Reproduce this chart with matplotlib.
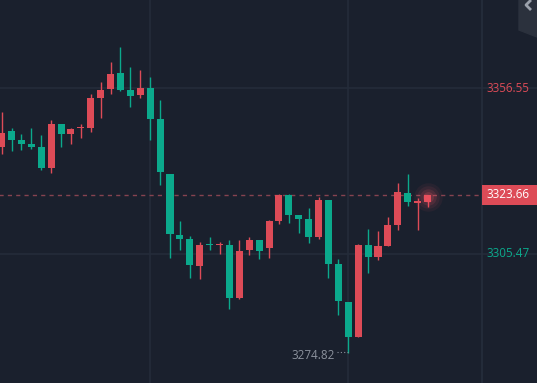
import matplotlib
matplotlib.use("Agg")
import matplotlib.pyplot as plt
import matplotlib.transforms as mtransforms
from matplotlib.patches import Rectangle, Polygon
import numpy as np

# candle data (red = up, green = down)
opens = [3338.45, 3343.39, 3340.61, 3339.38, 3338.45, 3331.98, 3345.54, 3342.46, 3344.20, 3344.31,
         3353.56, 3356.33, 3361.27, 3356.03, 3354.48, 3356.64, 3347.09, 3330.13, 3311.33, 3310.09,
         3301.77, 3308.26, 3308.22, 3308.24, 3291.91, 3306.70, 3309.79, 3307.32, 3315.64, 3323.66,
         3317.49, 3316.26, 3310.71, 3322.12, 3302.39, 3290.67, 3279.88, 3308.24, 3304.54, 3307.94,
         3314.41, 3324.27, 3321.26, 3321.50]
highs = [3349.24, 3344.31, 3342.46, 3344.31, 3342.15, 3346.78, 3345.54, 3344.31, 3345.54, 3354.79,
         3358.49, 3364.66, 3369.28, 3363.12, 3362.19, 3360.03, 3352.94, 3330.13, 3315.64, 3311.02,
         3309.17, 3310.71, 3309.17, 3309.79, 3309.79, 3310.71, 3309.79, 3315.95, 3323.97, 3323.97,
         3317.49, 3319.65, 3323.04, 3322.12, 3303.93, 3290.67, 3308.55, 3313.18, 3312.56, 3316.88,
         3327.36, 3330.13, 3322.73, 3323.66]
lows = [3336.30, 3337.22, 3337.53, 3337.84, 3331.36, 3330.44, 3338.45, 3339.38, 3341.23, 3343.08,
        3347.39, 3354.79, 3355.72, 3350.79, 3353.56, 3340.61, 3326.74, 3304.24, 3306.70, 3298.07,
        3297.76, 3306.70, 3305.47, 3288.51, 3291.60, 3305.16, 3303.93, 3304.24, 3314.72, 3315.03,
        3311.94, 3308.86, 3310.09, 3298.07, 3286.66, 3274.82, 3279.88, 3299.61, 3303.62, 3307.94,
        3312.87, 3320.27, 3312.87, 3319.96]
closes = [3342.77, 3340.61, 3339.38, 3338.45, 3331.98, 3345.54, 3342.46, 3344.00, 3344.24, 3353.56,
          3356.03, 3360.96, 3356.03, 3354.18, 3356.64, 3347.09, 3330.75, 3311.63, 3310.09, 3302.08,
          3308.24, 3308.22, 3308.26, 3291.91, 3306.39, 3309.79, 3306.39, 3315.64, 3323.66, 3317.49,
          3316.26, 3310.71, 3322.12, 3302.39, 3290.98, 3279.88, 3308.24, 3304.54, 3307.94, 3314.41,
          3324.58, 3321.50, 3321.30, 3323.66]

axis_marks = [3356.55, 3305.47]
last_price = 3323.66
low_price = 3274.82
low_index = 35

BG = "#1a202d"
GRID = "#242c3a"
UP = "#dd4b57"
DOWN = "#0ba98c"
FONT = "Open Sans"
FS = 8.4

W, H = 537, 383
fig = plt.figure(figsize=(W / 100, H / 100), dpi=100, facecolor=BG)
ax = fig.add_axes([0, 0, 1, 1])
ax.set_facecolor(BG)
ax.axis("off")

# pixel mapping: candle i at x = 1.6 + 9.905*i, price axis 0.30827 per px
step = 9.905
ax.set_xlim(-1.6 / step, (W - 1.6) / step)
ax.set_ylim(3383.77 - 0.30827 * H, 3383.77)

def px(x):
    return x / W

def py(y):
    return 1 - y / H

# grid
for p in axis_marks:
    ax.axhline(p, color=GRID, lw=1.2, zorder=0)
for gx in [150, 348]:
    ax.axvline((gx - 1.6) / step, color=GRID, lw=1.2, zorder=0)
ax.axvline((482 - 1.6) / step, color="#262e3c", lw=1.2, zorder=0)

# candles
idx = np.arange(len(opens))
for i in idx:
    o, h, l, c = opens[i], highs[i], lows[i], closes[i]
    col = UP if c >= o else DOWN
    ax.vlines(i, l, h, color=col, lw=1.0, zorder=2)
    bot = min(o, c)
    ht = max(abs(c - o), 0.45)
    ax.bar(i, ht, bottom=bot, width=0.71, color=col, linewidth=0, zorder=3)

# glow on last candle
last = idx[-1]
for s, a in [(420, 0.06), (260, 0.08), (140, 0.12), (60, 0.18)]:
    ax.scatter([last], [closes[-1] - 0.6], s=s, color="#ff5a6a", alpha=a, linewidths=0, zorder=4)

# last price dashed line
ax.hlines(last_price, -1, (482 - 1.6) / step, colors="#864350", lw=1.0,
          linestyles=(0, (3, 3)), zorder=1)

trans = mtransforms.blended_transform_factory(ax.transAxes, ax.transData)

# right price labels
ax.text(px(486), axis_marks[0], "3356.55", transform=trans, color="#dd4b57",
        fontsize=FS, family=FONT, va="center", ha="left")
ax.text(px(486), axis_marks[1], "3305.47", transform=trans, color="#0ba98c",
        fontsize=FS, family=FONT, va="center", ha="left")
ax.add_patch(Rectangle((px(482), last_price - 3.0), 1 - px(482), 6.0, transform=trans,
                       color="#dd4b57", zorder=5, linewidth=0))
ax.text(px(486), last_price, "3323.66", transform=trans, color="white",
        fontsize=FS, family=FONT, va="center", ha="left", zorder=6)

# low marker
ax.text(low_index - 1.35, low_price - 0.6, "3274.82", color="#8b919c",
        fontsize=FS, family=FONT, va="center", ha="right")
ax.hlines(low_price + 0.3, low_index - 1.1, low_index - 0.05, colors="#8b919c",
          lw=0.8, linestyles=(0, (1, 2)))

# collapse tab top right with chevron icon
tab = Polygon([(px(519), 1), (1, 1), (1, py(37)), (px(519), py(30))],
              closed=True, transform=ax.transAxes, color="#2b313d", zorder=5)
ax.add_patch(tab)
ax.plot([px(531), px(526), px(531)], [py(0), py(5), py(10)], transform=ax.transAxes,
        color="#9aa0aa", lw=2.0, solid_capstyle="butt", zorder=6)

fig.savefig("out.png", dpi=100, facecolor=BG)
